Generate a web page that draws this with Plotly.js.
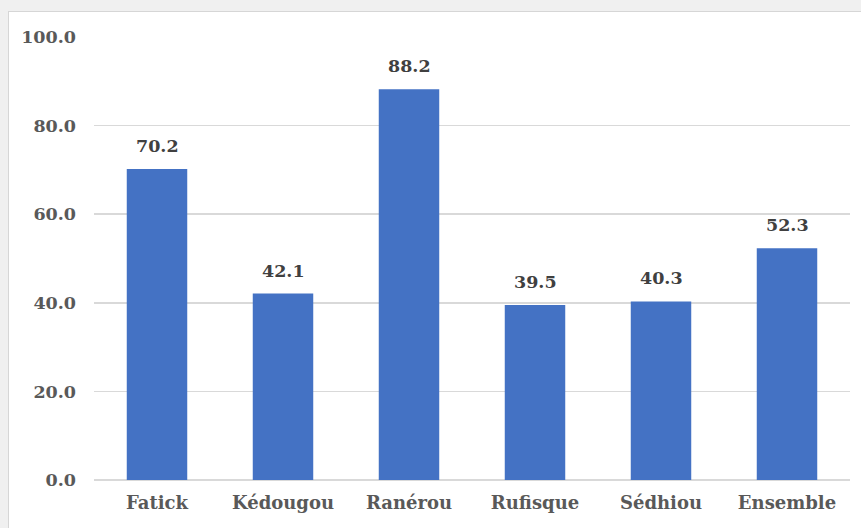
<!DOCTYPE html>
<html>
<head>
<meta charset="utf-8">
<script src="https://cdn.plot.ly/plotly-3.0.1.min.js"></script>
<style>
  html, body { margin: 0; padding: 0; background: #f0f0f0; width: 861px; height: 528px; overflow: hidden; }
  #chart { position: absolute; left: 8px; top: 11px; width: 853px; height: 517px;
           border-left: 1px solid #d6d6d6; border-top: 1px solid #d6d6d6; background: #fff; }
</style>
</head>
<body>
<div id="chart"></div>
<script>
const categories = ["Fatick", "Kédougou", "Ranérou", "Rufisque", "Sédhiou", "Ensemble"];
const values = [70.2, 42.1, 88.2, 39.5, 40.3, 52.3];
const tickValues = [0, 20, 40, 60, 80, 100];
const tickLabels = ["0.0", "20.0", "40.0", "60.0", "80.0", "100.0"];

const fontFamily = 'DejaVu Serif';

const trace = {
  type: 'bar',
  x: categories,
  y: values,
  marker: { color: '#4472c4' },
  hoverinfo: 'none'
};

const annotations = categories.map((c, i) => ({
  x: c,
  y: values[i],
  xref: 'x',
  yref: 'y',
  text: '<b>' + values[i].toFixed(1) + '</b>',
  showarrow: false,
  yanchor: 'bottom',
  yshift: 11,
  font: { family: fontFamily, size: 17.5, color: '#404040' }
}));

const layout = {
  width: 852,
  height: 516,
  margin: { l: 85, r: 11, t: 25, b: 48 },
  paper_bgcolor: '#ffffff',
  plot_bgcolor: '#ffffff',
  showlegend: false,
  bargap: 0.52,
  font: { family: fontFamily, size: 18, color: '#595959' },
  xaxis: {
    type: 'category',
    showgrid: false,
    showline: false,
    ticks: '',
    tickfont: { family: fontFamily, size: 18, color: '#595959', weight: 'bold' },
    ticklabelstandoff: 10
  },
  yaxis: {
    range: [0, 100],
    tickvals: tickValues,
    ticktext: tickLabels,
    showgrid: true,
    gridcolor: '#d9d9d9',
    gridwidth: 1.5,
    zeroline: true,
    zerolinecolor: '#d9d9d9',
    zerolinewidth: 1.5,
    showline: false,
    ticks: '',
    tickfont: { family: fontFamily, size: 17.5, color: '#595959', weight: 'bold' },
    ticklabelstandoff: 17
  },
  annotations: annotations
};

Plotly.newPlot('chart', [trace], layout, { staticPlot: true, displayModeBar: false });
</script>
</body>
</html>
